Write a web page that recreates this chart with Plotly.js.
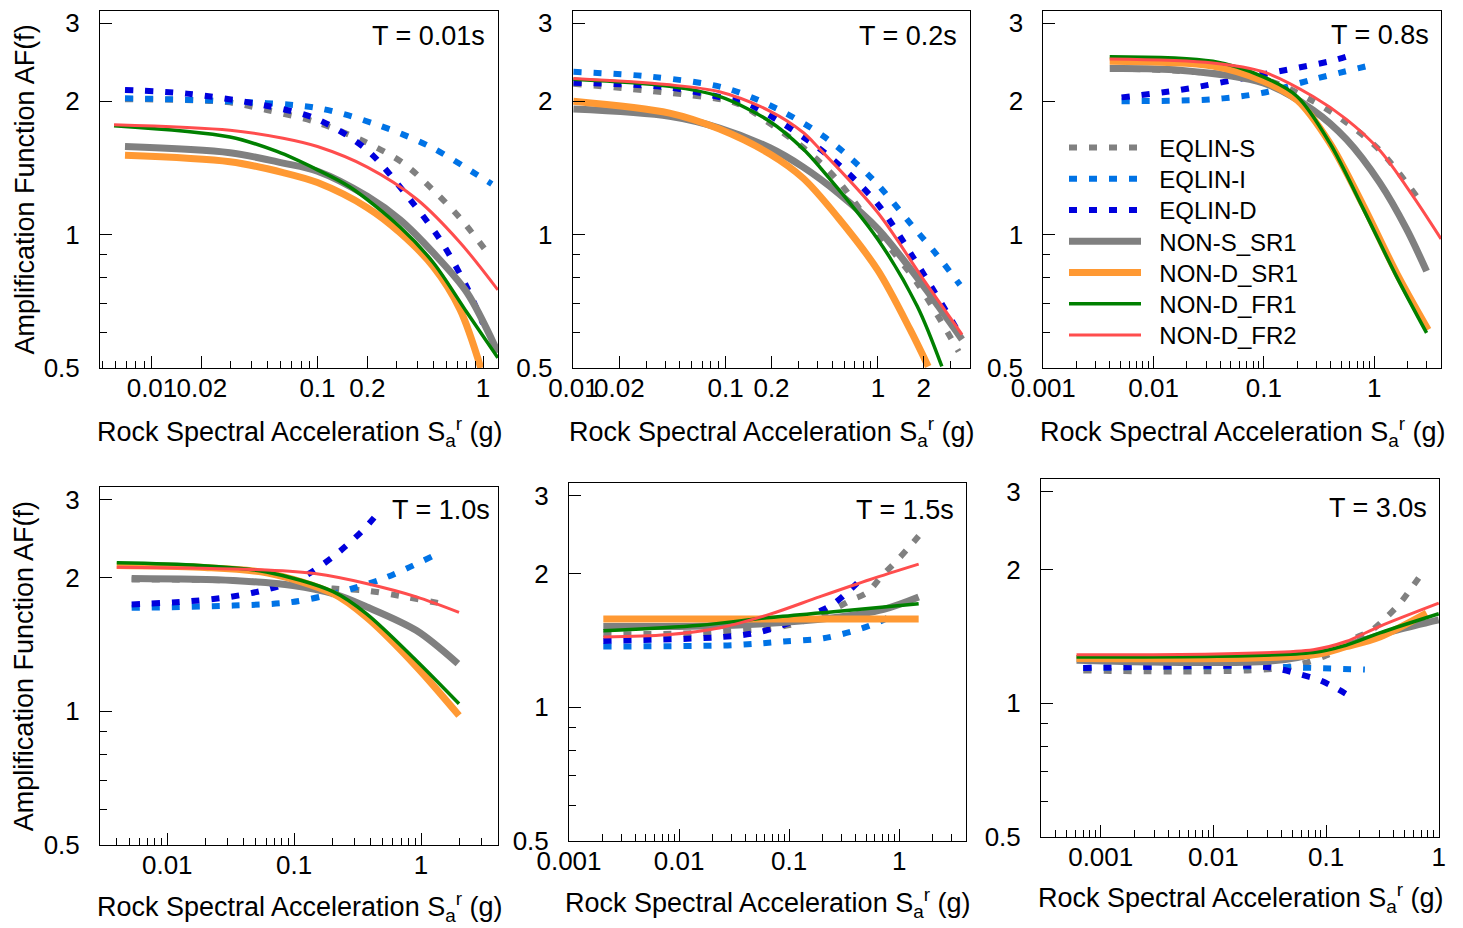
<!DOCTYPE html>
<html>
<head>
<meta charset="utf-8">
<script src="https://cdn.plot.ly/plotly-3.0.1.min.js"></script>
<style>html,body{margin:0;padding:0;background:#fff}#chart{width:1463px;height:928px}</style>
</head>
<body>
<div id="chart"></div>
<script>
// ---------------- DATA ----------------
const seriesNames = ['EQLIN-S', 'EQLIN-I', 'EQLIN-D', 'NON-S_SR1', 'NON-D_SR1', 'NON-D_FR1', 'NON-D_FR2'];
const panelTitles = ['T = 0.01s', 'T = 0.2s', 'T = 0.8s', 'T = 1.0s', 'T = 1.5s', 'T = 3.0s'];
const xTitle = 'Rock Spectral Acceleration S<sub>a</sub><sup>r</sup> (g)';
const yTitle = 'Amplification Function AF(f)';

// tick labels
const yTickVals = [0.5, 1, 2, 3];
const yTickText = ['0.5', '1', '2', '3'];
const yMinorVals = [0.6, 0.7, 0.8, 0.9];
const p1TickVals = [0.01, 0.02, 0.1, 0.2, 1];
const p2TickVals = [0.01, 0.02, 0.1, 0.2, 1, 2];
const p3TickVals = [0.001, 0.01, 0.1, 1];
const p4TickVals = [0.01, 0.1, 1];
const p5TickVals = [0.001, 0.01, 0.1, 1];
const p6TickVals = [0.001, 0.01, 0.1, 1];

// Panel 1: T = 0.01s
const p1_eqlinS_x = [0.00687, 0.0284, 0.0495, 0.1, 0.2, 0.329, 0.50, 0.726, 1.03];
const p1_eqlinS_y = [2.02, 1.99, 1.91, 1.79, 1.61, 1.45, 1.26, 1.09, 0.925];
const p1_eqlinI_x = [0.00687, 0.0284, 0.1, 0.229, 0.478, 0.92, 1.13];
const p1_eqlinI_y = [2.03, 2.0, 1.93, 1.77, 1.58, 1.365, 1.30];
const p1_eqlinD_x = [0.00687, 0.0163, 0.0469, 0.1, 0.2, 0.362, 0.55, 0.8, 1.0];
const p1_eqlinD_y = [2.12, 2.08, 1.96, 1.82, 1.55, 1.2, 0.975, 0.76, 0.63];
const p1_nonSSR1_x = [0.00687, 0.0296, 0.062, 0.1, 0.2, 0.315, 0.5, 0.8, 1.23];
const p1_nonSSR1_y = [1.58, 1.53, 1.45, 1.39, 1.22, 1.08, 0.91, 0.74, 0.542];
const p1_nonDSR1_x = [0.00687, 0.0296, 0.062, 0.1, 0.2, 0.315, 0.5, 0.726, 0.97];
const p1_nonDSR1_y = [1.51, 1.46, 1.38, 1.31, 1.15, 1.01, 0.847, 0.678, 0.50];
const p1_nonDFR1_x = [0.0059, 0.0296, 0.0569, 0.1, 0.157, 0.315, 0.5, 0.8, 1.23];
const p1_nonDFR1_y = [1.76, 1.66, 1.54, 1.40, 1.28, 1.04, 0.865, 0.667, 0.527];
const p1_nonDFR2_x = [0.0059, 0.0296, 0.062, 0.1, 0.2, 0.40, 0.726, 1.23];
const p1_nonDFR2_y = [1.77, 1.72, 1.65, 1.58, 1.42, 1.2, 0.96, 0.75];

// Panel 2: T = 0.2s
const p2_eqlinS_x = [0.01, 0.1, 0.13, 0.215, 0.339, 0.54, 0.93, 1.80, 3.39];
const p2_eqlinS_y = [2.19, 2.01, 1.95, 1.74, 1.55, 1.33, 1.04, 0.78, 0.545];
const p2_eqlinI_x = [0.01, 0.033, 0.1, 0.226, 0.469, 0.93, 1.67, 2.44, 3.46];
const p2_eqlinI_y = [2.33, 2.27, 2.14, 1.91, 1.64, 1.33, 1.05, 0.90, 0.77];
const p2_eqlinD_x = [0.01, 0.041, 0.1, 0.137, 0.226, 0.469, 0.98, 1.70, 3.57];
const p2_eqlinD_y = [2.20, 2.15, 2.03, 1.98, 1.80, 1.51, 1.18, 0.89, 0.585];
const p2_nonSSR1_x = [0.01, 0.0428, 0.091, 0.195, 0.323, 0.55, 1.0, 2.0, 3.57];
const p2_nonSSR1_y = [1.92, 1.85, 1.74, 1.57, 1.42, 1.24, 1.03, 0.764, 0.58];
const p2_nonDSR1_x = [0.01, 0.0428, 0.091, 0.195, 0.323, 0.55, 1.0, 1.63, 2.14];
const p2_nonDSR1_y = [2.0, 1.88, 1.73, 1.52, 1.34, 1.09, 0.83, 0.61, 0.504];
const p2_nonDFR1_x = [0.01, 0.0428, 0.091, 0.195, 0.323, 0.415, 1.0, 1.81, 2.63];
const p2_nonDFR1_y = [2.24, 2.16, 2.05, 1.80, 1.56, 1.42, 0.975, 0.69, 0.504];
const p2_nonDFR2_x = [0.01, 0.041, 0.091, 0.195, 0.323, 0.415, 1.0, 2.0, 3.57];
const p2_nonDFR2_y = [2.25, 2.18, 2.10, 1.90, 1.70, 1.56, 1.12, 0.79, 0.595];

// Panel 3: T = 0.8s
const p3_eqlinS_x = [0.0042, 0.0173, 0.106, 0.279, 0.56, 1.12, 2.42];
const p3_eqlinS_y = [2.37, 2.34, 2.23, 2.0, 1.79, 1.55, 1.22];
const p3_eqlinI_x = [0.00512, 0.0344, 0.0985, 0.279, 0.99];
const p3_eqlinI_y = [2.0, 2.02, 2.09, 2.24, 2.42];
const p3_eqlinD_x = [0.00512, 0.0173, 0.0985, 0.395, 0.56];
const p3_eqlinD_y = [2.04, 2.12, 2.30, 2.46, 2.52];
const p3_nonSSR1_x = [0.004, 0.0173, 0.0985, 0.279, 0.56, 1.12, 1.96, 2.98];
const p3_nonSSR1_y = [2.37, 2.35, 2.20, 1.91, 1.64, 1.31, 1.03, 0.827];
const p3_nonDSR1_x = [0.004, 0.0344, 0.0985, 0.2, 0.395, 0.8, 1.59, 3.08];
const p3_nonDSR1_y = [2.46, 2.40, 2.22, 2.01, 1.61, 1.16, 0.82, 0.61];
const p3_nonDFR1_x = [0.004, 0.0344, 0.0985, 0.2, 0.395, 0.8, 1.59, 2.98];
const p3_nonDFR1_y = [2.52, 2.46, 2.27, 2.05, 1.61, 1.14, 0.805, 0.60];
const p3_nonDFR2_x = [0.004, 0.0344, 0.0985, 0.279, 0.56, 1.12, 2.25, 4.03];
const p3_nonDFR2_y = [2.49, 2.44, 2.33, 2.05, 1.82, 1.55, 1.22, 0.978];

// Panel 4: T = 1.0s
const p4_eqlinS_x = [0.00524, 0.033, 0.111, 0.203, 0.37, 0.68, 1.58];
const p4_eqlinS_y = [1.98, 1.97, 1.92, 1.89, 1.87, 1.82, 1.74];
const p4_eqlinI_x = [0.00524, 0.033, 0.0925, 0.203, 0.502, 1.21];
const p4_eqlinI_y = [1.71, 1.73, 1.76, 1.84, 1.99, 2.23];
const p4_eqlinD_x = [0.00524, 0.0151, 0.0312, 0.0607, 0.111, 0.203, 0.349, 0.44];
const p4_eqlinD_y = [1.74, 1.77, 1.81, 1.88, 1.99, 2.23, 2.56, 2.76];
const p4_nonSSR1_x = [0.00524, 0.033, 0.098, 0.203, 0.37, 0.92, 1.95];
const p4_nonSSR1_y = [1.99, 1.97, 1.92, 1.84, 1.72, 1.52, 1.28];
const p4_nonDSR1_x = [0.004, 0.0181, 0.0607, 0.203, 0.37, 0.92, 1.99];
const p4_nonDSR1_y = [2.13, 2.11, 2.05, 1.84, 1.63, 1.26, 0.978];
const p4_nonDFR1_x = [0.004, 0.0181, 0.0607, 0.203, 0.37, 0.92, 1.99];
const p4_nonDFR1_y = [2.16, 2.13, 2.06, 1.86, 1.66, 1.30, 1.04];
const p4_nonDFR2_x = [0.004, 0.0607, 0.15, 0.37, 0.92, 1.99];
const p4_nonDFR2_y = [2.11, 2.08, 2.04, 1.94, 1.81, 1.67];

// Panel 5: T = 1.5s
const p5_eqlinS_x = [0.00205, 0.0155, 0.1, 0.262, 0.37, 0.508, 0.70, 0.92, 1.22, 1.5];
const p5_eqlinS_y = [1.46, 1.47, 1.53, 1.67, 1.745, 1.81, 1.98, 2.12, 2.29, 2.43];
const p5_eqlinI_x = [0.00205, 0.0312, 0.0887, 0.205, 0.44, 0.63, 0.87];
const p5_eqlinI_y = [1.37, 1.38, 1.406, 1.43, 1.50, 1.55, 1.61];
const p5_eqlinD_x = [0.00205, 0.0253, 0.0565, 0.172, 0.244, 0.334, 0.458];
const p5_eqlinD_y = [1.41, 1.44, 1.48, 1.63, 1.70, 1.81, 1.95];
const p5_nonSSR1_x = [0.00205, 0.0312, 0.253, 0.72, 1.5];
const p5_nonSSR1_y = [1.52, 1.53, 1.59, 1.66, 1.77];
const p5_nonDSR1_x = [0.00205, 1.5];
const p5_nonDSR1_y = [1.58, 1.58];
const p5_nonDFR1_x = [0.00205, 0.0155, 0.0626, 0.253, 1.5];
const p5_nonDFR1_y = [1.486, 1.53, 1.59, 1.64, 1.71];
const p5_nonDFR2_x = [0.00205, 0.0077, 0.0236, 0.067, 0.191, 0.545, 1.5];
const p5_nonDFR2_y = [1.44, 1.456, 1.51, 1.62, 1.775, 1.94, 2.10];

// Panel 6: T = 3.0s
const p6_eqlinS_x = [0.0007, 0.039, 0.1, 0.18, 0.254, 0.333, 0.453, 0.575, 0.73];
const p6_eqlinS_y = [1.185, 1.2, 1.28, 1.40, 1.46, 1.55, 1.68, 1.82, 1.98];
const p6_eqlinI_x = [0.0007, 0.0184, 0.221];
const p6_eqlinI_y = [1.2, 1.21, 1.19];
const p6_eqlinD_x = [0.0007, 0.0184, 0.0277, 0.0408, 0.0595, 0.0853, 0.12, 0.169];
const p6_eqlinD_y = [1.2, 1.215, 1.21, 1.19, 1.16, 1.13, 1.084, 1.03];
const p6_nonSSR1_x = [0.00061, 0.039, 0.152, 0.424, 1.0];
const p6_nonSSR1_y = [1.25, 1.25, 1.35, 1.46, 1.54];
const p6_nonDSR1_x = [0.00061, 0.0769, 0.15, 0.30, 0.78];
const p6_nonDSR1_y = [1.26, 1.285, 1.34, 1.41, 1.595];
const p6_nonDFR1_x = [0.00061, 0.0769, 0.15, 0.30, 1.0];
const p6_nonDFR1_y = [1.27, 1.30, 1.35, 1.44, 1.59];
const p6_nonDFR2_x = [0.00061, 0.0769, 0.15, 0.30, 1.0];
const p6_nonDFR2_y = [1.285, 1.32, 1.377, 1.49, 1.68];

const panelData = [
  [[p1_eqlinS_x,p1_eqlinS_y],[p1_eqlinI_x,p1_eqlinI_y],[p1_eqlinD_x,p1_eqlinD_y],[p1_nonSSR1_x,p1_nonSSR1_y],[p1_nonDSR1_x,p1_nonDSR1_y],[p1_nonDFR1_x,p1_nonDFR1_y],[p1_nonDFR2_x,p1_nonDFR2_y]],
  [[p2_eqlinS_x,p2_eqlinS_y],[p2_eqlinI_x,p2_eqlinI_y],[p2_eqlinD_x,p2_eqlinD_y],[p2_nonSSR1_x,p2_nonSSR1_y],[p2_nonDSR1_x,p2_nonDSR1_y],[p2_nonDFR1_x,p2_nonDFR1_y],[p2_nonDFR2_x,p2_nonDFR2_y]],
  [[p3_eqlinS_x,p3_eqlinS_y],[p3_eqlinI_x,p3_eqlinI_y],[p3_eqlinD_x,p3_eqlinD_y],[p3_nonSSR1_x,p3_nonSSR1_y],[p3_nonDSR1_x,p3_nonDSR1_y],[p3_nonDFR1_x,p3_nonDFR1_y],[p3_nonDFR2_x,p3_nonDFR2_y]],
  [[p4_eqlinS_x,p4_eqlinS_y],[p4_eqlinI_x,p4_eqlinI_y],[p4_eqlinD_x,p4_eqlinD_y],[p4_nonSSR1_x,p4_nonSSR1_y],[p4_nonDSR1_x,p4_nonDSR1_y],[p4_nonDFR1_x,p4_nonDFR1_y],[p4_nonDFR2_x,p4_nonDFR2_y]],
  [[p5_eqlinS_x,p5_eqlinS_y],[p5_eqlinI_x,p5_eqlinI_y],[p5_eqlinD_x,p5_eqlinD_y],[p5_nonSSR1_x,p5_nonSSR1_y],[p5_nonDSR1_x,p5_nonDSR1_y],[p5_nonDFR1_x,p5_nonDFR1_y],[p5_nonDFR2_x,p5_nonDFR2_y]],
  [[p6_eqlinS_x,p6_eqlinS_y],[p6_eqlinI_x,p6_eqlinI_y],[p6_eqlinD_x,p6_eqlinD_y],[p6_nonSSR1_x,p6_nonSSR1_y],[p6_nonDSR1_x,p6_nonDSR1_y],[p6_nonDFR1_x,p6_nonDFR1_y],[p6_nonDFR2_x,p6_nonDFR2_y]]
];
const panelTickVals = [p1TickVals, p2TickVals, p3TickVals, p4TickVals, p5TickVals, p6TickVals];

// ---------------- STYLE / LAYOUT ----------------
const W = 1463, H = 928;
const FONT = 'Liberation Sans, Arial, Helvetica, sans-serif';
const seriesStyle = [
  {color:'#808080', width:6, dash:'8px,12px'},
  {color:'#0073e6', width:6, dash:'8px,12px'},
  {color:'#0000dd', width:6, dash:'8px,12px'},
  {color:'#808080', width:7, dash:'solid'},
  {color:'#ff9933', width:7, dash:'solid'},
  {color:'#008000', width:3.5, dash:'solid'},
  {color:'#ff4d4d', width:3, dash:'solid'}
];
// pixel boxes [left, right, top, bottom] and log10 x-ranges
const boxes = [
  [100, 498, 11, 368], [572.7, 970, 11, 368], [1043.3, 1441, 11, 368],
  [100, 498, 487.3, 845], [569, 966, 483.3, 840.7], [1041, 1439.3, 479.3, 836.7]
];
const xRanges = [[-2.314, 0.0906], [-2.005, 0.605], [-3.0, 0.605], [-2.53, 0.606], [-3.0, 0.606], [-3.53, 0.005]];
const yRange = [Math.log10(0.5), 0.5045];
const titleBoxes = [[487, 36], [959, 36], [1431, 35], [492, 510], [956, 510], [1429, 508]];
const xTitleY = [432, 432, 432, 907, 903, 898];
const legendX = 1064, legendTop = 148, legendStep = 31.25;

function fmt(v){ return String(v); }
function minorTicks(r, majors){
  const out = [];
  for (let e = Math.floor(r[0]) ; e <= Math.ceil(r[1]); e++) {
    for (let k = 1; k <= 9; k++) {
      const v = k * Math.pow(10, e);
      const lv = Math.log10(v);
      if (lv < r[0] - 1e-6 || lv > r[1] + 1e-6) continue;
      if (majors.some(m => Math.abs(Math.log10(m) - lv) < 1e-6)) continue;
      out.push(+v.toPrecision(3));
    }
  }
  return out;
}

const traces = [];
const layout = {
  width: W, height: H,
  margin: {l:0, r:0, t:0, b:0},
  paper_bgcolor: '#fff', plot_bgcolor: '#fff',
  font: {family: FONT, color: '#000'},
  showlegend: true,
  annotations: [],
  shapes: []
};
seriesNames.forEach((nm, s) => {
  const key = s === 0 ? 'legend' : 'legend' + (s + 1);
  layout[key] = {
    x: legendX / W, y: 1 - (legendTop + s * legendStep) / H, xanchor: 'left', yanchor: 'middle',
    bgcolor: 'rgba(0,0,0,0)', borderwidth: 0,
    font: {family: FONT, size: 24, color: '#000'},
    itemwidth: 72
  };
});

for (let p = 0; p < 6; p++) {
  const sfx = p === 0 ? '' : String(p + 1);
  const [l, r, t, b] = boxes[p];
  const xa = {
    type: 'log', domain: [l / W, r / W], range: xRanges[p], anchor: 'y' + sfx,
    tickmode: 'array', tickvals: panelTickVals[p], ticktext: panelTickVals[p].map(fmt), tickangle: 0,
    ticks: 'inside', ticklen: 12, tickwidth: 1, tickcolor: '#000',
    minor: {tickmode: 'array', tickvals: minorTicks(xRanges[p], panelTickVals[p]), ticks: 'inside', ticklen: 7, tickwidth: 1, tickcolor: '#000', showgrid: false},
    showline: true, linecolor: '#000', linewidth: 1, mirror: true,
    showgrid: false, zeroline: false, fixedrange: true,
    tickfont: {family: FONT, size: 26, color: '#000'}, ticklabelstandoff: -3
  };
  const ya = {
    type: 'log', domain: [1 - b / H, 1 - t / H], range: yRange, anchor: 'x' + sfx,
    tickmode: 'array', tickvals: yTickVals, ticktext: yTickText, tickangle: 0,
    ticks: 'inside', ticklen: 12, tickwidth: 1, tickcolor: '#000',
    minor: {tickmode: 'array', tickvals: yMinorVals, ticks: 'inside', ticklen: 7, tickwidth: 1, tickcolor: '#000', showgrid: false},
    showline: true, linecolor: '#000', linewidth: 1, mirror: true,
    showgrid: false, zeroline: false, fixedrange: true,
    tickfont: {family: FONT, size: 26, color: '#000'}, ticklabelstandoff: 14
  };
  layout['xaxis' + sfx] = xa;
  layout['yaxis' + sfx] = ya;

  panelData[p].forEach((xy, s) => {
    const st = seriesStyle[s];
    traces.push({
      type: 'scatter', mode: 'lines', x: xy[0], y: xy[1],
      xaxis: 'x' + sfx, yaxis: 'y' + sfx,
      name: '\u00a0\u00a0' + seriesNames[s], legendgroup: seriesNames[s], showlegend: p === 0,
      legend: s === 0 ? 'legend' : 'legend' + (s + 1),
      line: {color: st.color, width: st.width, dash: st.dash, shape: 'spline', smoothing: 0.9},
      hoverinfo: 'skip'
    });
  });

  layout.annotations.push({
    xref: 'paper', yref: 'paper', x: titleBoxes[p][0] / W, y: 1 - titleBoxes[p][1] / H,
    xanchor: 'right', yanchor: 'middle', showarrow: false, text: panelTitles[p],
    font: {family: FONT, size: 27, color: '#000'}
  });
  layout.annotations.push({
    xref: 'paper', yref: 'paper', x: ((l + r) / 2) / W, y: 1 - xTitleY[p] / H,
    xanchor: 'center', yanchor: 'middle', showarrow: false, text: xTitle,
    font: {family: FONT, size: 27, color: '#000'}
  });
  if (p === 0 || p === 3) {
    layout.annotations.push({
      xref: 'paper', yref: 'paper', x: 24 / W, y: 1 - ((t + b) / 2) / H,
      xanchor: 'center', yanchor: 'middle', showarrow: false, text: yTitle, textangle: -90,
      font: {family: FONT, size: 27, color: '#000'}
    });
  }
}

Plotly.newPlot('chart', traces, layout, {displayModeBar: false, staticPlot: true});
</script>
</body>
</html>
